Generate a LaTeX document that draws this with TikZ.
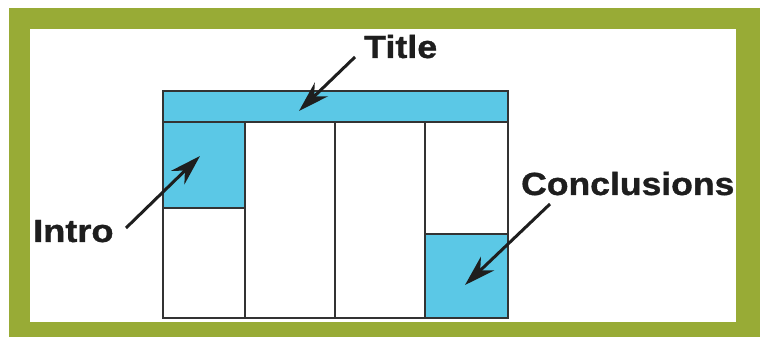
\documentclass[tikz,border=0pt]{standalone}
\usepackage{fontspec}
\setmainfont{Liberation Sans}
\newfontfamily\heavyfont{Liberation Sans Bold}[FakeBold=1]
\usetikzlibrary{arrows.meta}
\definecolor{olive}{HTML}{98AB36}
\definecolor{cellblue}{HTML}{5BC8E6}
\definecolor{edge}{HTML}{333333}
\definecolor{ink}{HTML}{1E1E1E}
\tikzset{
  cell/.style={draw=edge, line width=2pt},
  lbl/.style={inner sep=0pt, anchor=base west, text=ink, font=\fontsize{32}{38}\heavyfont},
  pointer/.style={draw=ink, line width=3pt, -{Stealth[length=31pt, width=19pt, inset=10pt]}}
}
\begin{document}
\begin{tikzpicture}[x=1pt,y=1pt]
\useasboundingbox (0,0) rectangle (760,337);
% frame
\fill[olive] (9,0) rectangle (760,329);
\fill[white] (30,15) rectangle (736,308);
% blue cells
\fill[cellblue] (163,215) rectangle (508,246);
\fill[cellblue] (163,129) rectangle (245,215);
\fill[cellblue] (425,19) rectangle (508,103);
% grid
\draw[cell] (163,19) rectangle (508,246);
\draw[cell] (163,215) -- (508,215);
\draw[cell] (245,19) -- (245,215);
\draw[cell] (335,19) -- (335,215);
\draw[cell] (425,19) -- (425,215);
\draw[cell] (163,129) -- (245,129);
\draw[cell] (425,103) -- (508,103);
% labels
\node[lbl] (title) at (364,279) {\scalebox{1.12}[1]{Title}};
\node[lbl] (intro) at (33,95) {\scalebox{1.13}[1]{Intro}};
\node[lbl] (concl) at (521,142) {\scalebox{1.11}[1]{Conclusions}};
% arrow ends
\coordinate (titleS) at (355,280);
\coordinate (titleT) at (299,226);
\coordinate (introS) at (126,109);
\coordinate (introT) at (200,181);
\coordinate (conclS) at (550,133);
\coordinate (conclT) at (465,52);
\draw[pointer] (titleS) -- (titleT);
\draw[pointer] (introS) -- (introT);
\draw[pointer] (conclS) -- (conclT);
\end{tikzpicture}
\end{document}
